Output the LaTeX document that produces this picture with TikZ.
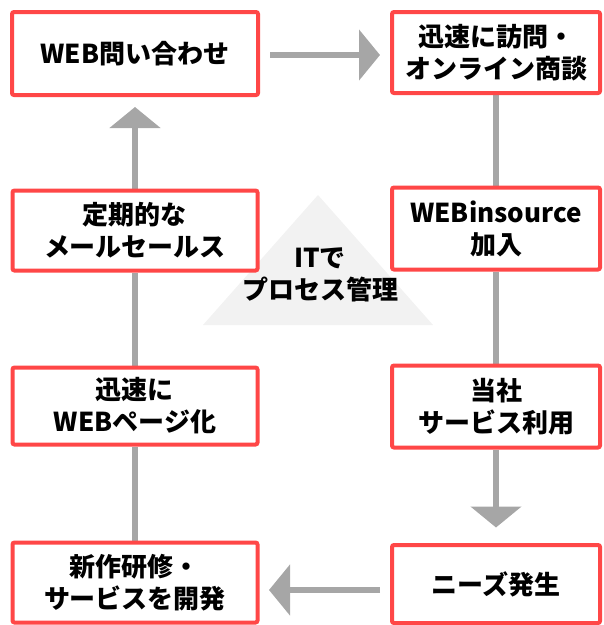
\documentclass[tikz,border=0pt]{standalone}
\usepackage{fontspec}
\setmainfont{Noto Sans CJK JP}
\usetikzlibrary{arrows.meta}
\definecolor{boxred}{HTML}{FF4747}
\definecolor{arrgray}{HTML}{A6A6A6}
\definecolor{trigray}{HTML}{F2F2F2}
\pgfdeclarelayer{bg}
\pgfsetlayers{bg,main}
\begin{document}
\begin{tikzpicture}[x=1pt,y=-1pt,
  box/.style={draw=boxred, line width=4pt, fill=white, rounded corners=2pt,
    align=center, inner sep=0pt, font=\fontsize{26}{32}\selectfont\bfseries},
  lbl/.style={align=center, inner sep=0pt, font=\fontsize{26}{32}\selectfont\bfseries},
  conn/.style={draw=arrgray, line width=6.5pt},
  head/.style={-{Triangle[width=50pt,length=21pt]}}]
\useasboundingbox (0,0) rectangle (604,625);
% triangle
\fill[trigray] (203,325) -- (433,325) -- (318,195) -- cycle;
\node[lbl] (it) at (320,275) {ITで\\プロセス管理};
% left column
\node[box, minimum width=246pt, minimum height=83pt] (inq) at (135,53.5) {WEB問い合わせ};
\node[box, minimum width=245pt, minimum height=80pt] (mail) at (135,230.5) {定期的な\\メールセールス};
\node[box, minimum width=245pt, minimum height=77pt] (web) at (135,406) {迅速に\\WEBページ化};
\node[box, minimum width=245pt, minimum height=80pt] (dev) at (135,582.5) {新作研修・\\サービスを開発};
% right column
\node[box, minimum width=208pt, minimum height=81pt] (visit) at (496,52.5) {迅速に訪問・\\オンライン商談};
\node[box, minimum width=208pt, minimum height=82pt] (ins) at (496,228.5) {WEBinsource\\加入};
\node[box, minimum width=208pt, minimum height=82pt] (use) at (496,406.5) {当社\\サービス利用};
\node[box, minimum width=208pt, minimum height=78pt] (needs) at (496,584) {ニーズ発生};
% connectors
\begin{pgfonlayer}{bg}
\draw[conn, head, shorten <=10pt, shorten >=10pt] ([yshift=-1.5pt]inq.east) -- ([yshift=-1.5pt]inq.east -| visit.west);
\draw[conn] (visit.south) -- (ins.north);
\draw[conn] (ins.south) -- (use.north);
\draw[conn, head, shorten >=15.5pt] (use.south) -- (needs.north);
\draw[conn, head, shorten <=10pt, shorten >=9.5pt] ([yshift=-6pt]needs.west) -- ([yshift=-6pt]needs.west -| dev.east);
\draw[conn] (dev.north) -- (web.south);
\draw[conn] (web.north) -- (mail.south);
\draw[conn, head, shorten >=10pt] (mail.north) -- (inq.south);
\end{pgfonlayer}
\end{tikzpicture}
\end{document}
